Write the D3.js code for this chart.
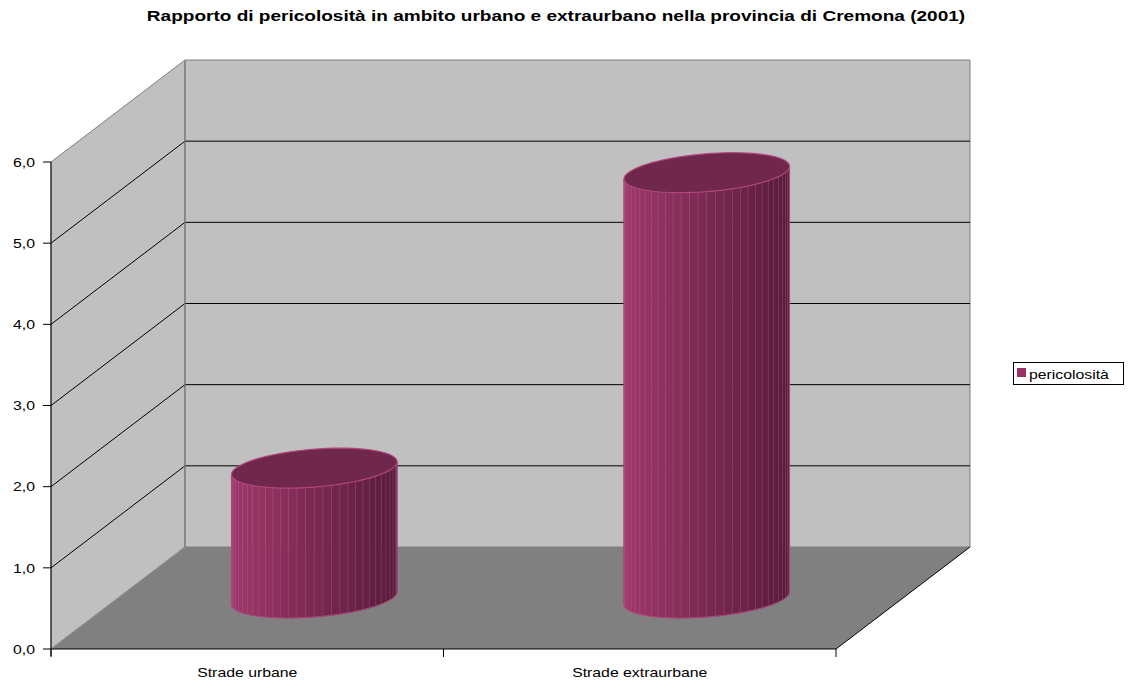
<!DOCTYPE html>
<html>
<head>
<meta charset="utf-8">
<script src="https://cdn.jsdelivr.net/npm/d3@7/dist/d3.min.js"></script>
<style>
  html, body { margin: 0; padding: 0; background: #fff; }
  svg { display: block; }
  text { font-family: "Liberation Sans", Arial, sans-serif; fill: #000; }
</style>
</head>
<body>
<svg id="chart" width="1128" height="682"></svg>
<script>
// ---- data ----
const title = "Rapporto di pericolosità in ambito urbano e extraurbano nella provincia di Cremona (2001)";
const categories = ["Strade urbane", "Strade extraurbane"];
const seriesName = "pericolosità";
const values = [1.6, 5.24];
const yTicks = [0, 1, 2, 3, 4, 5, 6];

// ---- layout ----
const W = 1128, H = 682;
const plot = { left: 51, right: 836, bottom: 649, top: 162 };
const depth = { dx: 134, dy: -102 };          // oblique offset of the back plane
const labelSize = 13.4, labelStretch = 1.18;   // wide-set lettering
const titleSize = 15, titleStretch = 1.27;

const svg = d3.select("#chart");

const x = d3.scaleBand().domain(categories).range([plot.left, plot.right]);
const y = d3.scaleLinear().domain([0, 6]).range([plot.bottom, plot.top]);

const wallFill = "#c0c0c0", wallEdge = "#808080", floorFill = "#808080";
const yMax = d3.max(yTicks);

// stretched text helper
function label(parent, tx, ty, str, opts = {}) {
  const g = parent.append("g")
    .attr("transform", `translate(${tx},${ty}) scale(${opts.stretch || labelStretch},1)`);
  return g.append("text")
    .attr("text-anchor", opts.anchor || "start")
    .attr("dy", opts.dy || 0)
    .style("font-size", (opts.size || labelSize) + "px")
    .style("font-weight", opts.weight || "normal")
    .text(str);
}

const pt = (px, py) => `${px},${py}`;
const back = (px, py) => [px + depth.dx, py + depth.dy];

// ---- walls & floor ----
const walls = svg.append("g");
const [blx, bty] = back(plot.left, y(yMax));
const [, bby] = back(plot.left, y(0));
const [brx] = back(plot.right, y(0));

// left side wall
walls.append("polygon")
  .attr("points", [pt(plot.left, y(0)), pt(plot.left, y(yMax)), pt(blx, bty), pt(blx, bby)].join(" "))
  .attr("fill", wallFill).attr("stroke", wallEdge).attr("stroke-width", 1);

// back wall
walls.append("polygon")
  .attr("points", [pt(blx, bty), pt(brx, bty), pt(brx, bby), pt(blx, bby)].join(" "))
  .attr("fill", wallFill).attr("stroke", wallEdge).attr("stroke-width", 1);

// floor
walls.append("polygon")
  .attr("points", [pt(plot.left, y(0)), pt(blx, bby), pt(brx, bby), pt(plot.right, y(0))].join(" "))
  .attr("fill", floorFill).attr("stroke", "none");
walls.append("line")
  .attr("x1", plot.right).attr("y1", y(0)).attr("x2", brx).attr("y2", bby)
  .attr("stroke", "#000").attr("stroke-width", 1);
walls.append("line")
  .attr("x1", plot.left).attr("y1", y(0)).attr("x2", blx).attr("y2", bby)
  .attr("stroke", "#909090").attr("stroke-width", 1);

// gridlines on side wall and back wall
const grid = svg.append("g").attr("stroke", "#000").attr("stroke-width", 1).attr("fill", "none");
yTicks.filter(v => v > 0 && v < yMax).forEach(v => {
  const [gx, gy] = back(plot.left, y(v));
  grid.append("line").attr("x1", plot.left).attr("y1", y(v)).attr("x2", gx).attr("y2", gy);
  grid.append("line").attr("x1", gx).attr("y1", gy).attr("x2", brx).attr("y2", gy);
});
// back wall left corner edge on top of grid
svg.append("line")
  .attr("x1", blx).attr("y1", bty).attr("x2", blx).attr("y2", bby)
  .attr("stroke", wallEdge).attr("stroke-width", 1.2);

// ---- cylinders ----
const bw = x.bandwidth();
const rad = bw * 0.2;                  // radius across
const kDepth = 0.196;                  // radius along depth, as share of full depth
const ax = kDepth * depth.dx, by = kDepth * -depth.dy;
const phi = Math.atan2(ax, rad);
const shade = d3.interpolateRgb("#9e3769", "#581b3a");

function ring(cx, cy, t) {
  return [cx + rad * Math.cos(t) + ax * Math.sin(t), cy - by * Math.sin(t)];
}

const bars = svg.append("g");
categories.forEach((c, i) => {
  const cx = x(c) + bw / 2 + depth.dx / 2;
  const baseY = y(0) + depth.dy / 2;
  const topY = y(values[i]) + depth.dy / 2;
  const g = bars.append("g");
  const N = 30;
  const t0 = Math.PI + phi, t1 = 2 * Math.PI + phi;
  const halfW = Math.hypot(rad, ax);
  for (let k = 0; k < N; k++) {
    const a0 = t0 + (t1 - t0) * k / N, a1 = t0 + (t1 - t0) * (k + 1) / N;
    const p0 = ring(cx, topY, a0), p1 = ring(cx, topY, a1);
    const q1 = ring(cx, baseY, a1), q0 = ring(cx, baseY, a0);
    const mid = (p0[0] + p1[0]) / 2;
    const f = (mid - (cx - halfW)) / (2 * halfW);
    const col = shade(f);
    g.append("polygon")
      .attr("points", [p0, p1, q1, q0].map(p => p.join(",")).join(" "))
      .attr("fill", col).attr("stroke", col).attr("stroke-width", 0.6);
    if (k > 0) {
      g.append("line")
        .attr("x1", p0[0]).attr("y1", p0[1]).attr("x2", q0[0]).attr("y2", q0[1])
        .attr("stroke", "#d08ab0").attr("stroke-opacity", 0.28).attr("stroke-width", 0.8);
    }
  }
  // outline of the body
  const outline = d3.path();
  const L = ring(cx, topY, t0);
  outline.moveTo(L[0], L[1]);
  for (let k = 0; k <= 60; k++) {
    const p = ring(cx, baseY, t0 + (t1 - t0) * k / 60);
    outline.lineTo(p[0], p[1]);
  }
  const R = ring(cx, topY, t1);
  outline.lineTo(R[0], R[1]);
  g.append("path").attr("d", outline.toString())
    .attr("fill", "none").attr("stroke", "#b0457f").attr("stroke-width", 1);
  // top cap
  const cap = d3.path();
  for (let k = 0; k <= 72; k++) {
    const p = ring(cx, topY, 2 * Math.PI * k / 72);
    if (k === 0) cap.moveTo(p[0], p[1]); else cap.lineTo(p[0], p[1]);
  }
  cap.closePath();
  g.append("path").attr("d", cap.toString())
    .attr("fill", "#6f274b").attr("stroke", "#b0457f").attr("stroke-width", 1.2);
});

// ---- axes ----
const axes = svg.append("g").attr("stroke", "#000").attr("stroke-width", 1);
axes.append("line").attr("x1", plot.left).attr("y1", y(yMax)).attr("x2", plot.left).attr("y2", y(0) + 7);
axes.append("line").attr("x1", plot.left).attr("y1", y(0)).attr("x2", plot.right).attr("y2", y(0));
yTicks.forEach(v => {
  axes.append("line").attr("x1", plot.left - 8).attr("y1", y(v)).attr("x2", plot.left).attr("y2", y(v));
});
const catEdges = categories.map(c => x(c)).concat([plot.right]);
catEdges.forEach(e => {
  axes.append("line").attr("x1", e).attr("y1", y(0)).attr("x2", e).attr("y2", y(0) + 8);
});

const fmt = v => d3.format(".1f")(v).replace(".", ",");
yTicks.forEach(v => {
  label(svg, 35, y(v), fmt(v), { anchor: "end", dy: "0.36em" });
});
categories.forEach(c => {
  label(svg, x(c) + bw / 2, 677, c, { anchor: "middle" });
});

// ---- legend ----
const leg = svg.append("g");
leg.append("rect").attr("x", 1013.5).attr("y", 362.5).attr("width", 110).attr("height", 22)
  .attr("fill", "#fff").attr("stroke", "#000").attr("stroke-width", 1);
leg.append("rect").attr("x", 1017).attr("y", 368).attr("width", 9).attr("height", 9)
  .attr("fill", "#993366");
label(leg, 1029, 378.5, seriesName);

// ---- title ----
label(svg, 556, 21, title, { anchor: "middle", size: titleSize, weight: "bold", stretch: titleStretch });
</script>
</body>
</html>
